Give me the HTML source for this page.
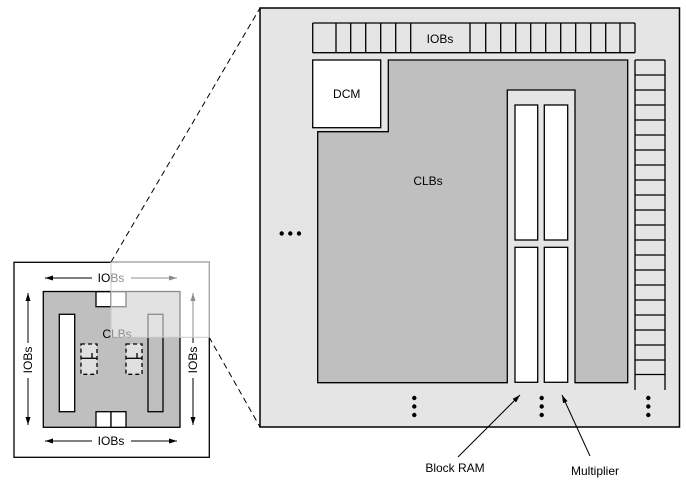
<!DOCTYPE html>
<html><head><style>html,body{margin:0;padding:0;background:#fff}svg{display:block}</style></head>
<body>
<svg width="686" height="481" viewBox="0 0 686 481" xmlns="http://www.w3.org/2000/svg" font-family="Liberation Sans, Arial, sans-serif">
<defs>
<marker id="ah" markerWidth="8" markerHeight="5" refX="8" refY="2.5" orient="auto" markerUnits="userSpaceOnUse"><path d="M0,0 L8,2.5 L0,5 z" fill="#000"/></marker>
</defs>
<line x1="111" y1="262" x2="260" y2="8" stroke="#000" stroke-width="1" stroke-dasharray="6,4"/>
<line x1="209" y1="337" x2="260" y2="427" stroke="#000" stroke-width="1" stroke-dasharray="6,4"/>
<rect x="260" y="8" width="419.5" height="419" fill="#e5e5e5" stroke="#000" stroke-width="1.5"/>
<g stroke="#000" stroke-width="1.3" fill="none">
<line x1="312.7" y1="23" x2="635" y2="23"/>
<line x1="312.7" y1="52.7" x2="635" y2="52.7"/>
<path d="M312.7 23V52.7M336 23V52.7M350.7 23V52.7M365.7 23V52.7M380.7 23V52.7M395.7 23V52.7M410.7 23V52.7M470 23V52.7M485.7 23V52.7M500.7 23V52.7M515.7 23V52.7M530.7 23V52.7M545.7 23V52.7M560.7 23V52.7M575.7 23V52.7M590.7 23V52.7M605.7 23V52.7M620 23V52.7M635 23V52.7"/>
</g>
<text x="440" y="43" font-size="12" text-anchor="middle">IOBs</text>
<rect x="312.7" y="60" width="68" height="67.7" fill="#fff" stroke="#000" stroke-width="1.3"/>
<text x="346.7" y="98" font-size="12" text-anchor="middle">DCM</text>
<path d="M388.3 60 H627.7 V382.7 H575 V90 H507.3 V382.7 H317.7 V131.7 H388.3 Z" fill="#bfbfbf" stroke="#000" stroke-width="1.3"/>
<text x="428" y="185" font-size="12" text-anchor="middle">CLBs</text>
<g fill="#fff" stroke="#000" stroke-width="1.3">
<rect x="515" y="105" width="22.7" height="135"/>
<rect x="544.3" y="105" width="23.4" height="135"/>
<rect x="515" y="247.3" width="22.7" height="135"/>
<rect x="544.3" y="247.3" width="23.4" height="135"/>
</g>
<g stroke="#000" stroke-width="1.3">
<line x1="635" y1="60" x2="635" y2="390"/>
<line x1="665" y1="60" x2="665" y2="390"/>
<path d="M635 60H665M635 75H665M635 90H665M635 105H665M635 120H665M635 135H665M635 150H665M635 165H665M635 180H665M635 195H665M635 210H665M635 225H665M635 240H665M635 255H665M635 270H665M635 285H665M635 300H665M635 315H665M635 330H665M635 345H665M635 360H665M635 374.5H665"/>
</g>
<g fill="#000">
<circle cx="281.7" cy="233.5" r="2.2"/><circle cx="290.3" cy="233.5" r="2.2"/><circle cx="299" cy="233.5" r="2.2"/>
<circle cx="414.3" cy="398" r="2.2"/><circle cx="414.3" cy="406.5" r="2.2"/><circle cx="414.3" cy="415" r="2.2"/>
<circle cx="541.7" cy="398" r="2.2"/><circle cx="541.7" cy="406.5" r="2.2"/><circle cx="541.7" cy="415" r="2.2"/>
<circle cx="648.3" cy="398" r="2.2"/><circle cx="648.3" cy="406.5" r="2.2"/><circle cx="648.3" cy="415" r="2.2"/>
</g>
<line x1="458" y1="457" x2="520" y2="395" stroke="#000" stroke-width="1" marker-end="url(#ah)"/>
<line x1="590" y1="456" x2="562" y2="395" stroke="#000" stroke-width="1" marker-end="url(#ah)"/>
<text x="455" y="472" font-size="12" text-anchor="middle">Block RAM</text>
<text x="595" y="475" font-size="12" text-anchor="middle">Multiplier</text>
<rect x="14" y="262.3" width="195.3" height="195" fill="#fff" stroke="#000" stroke-width="1.3"/>
<rect x="43.3" y="291.5" width="136.7" height="135.8" fill="#bfbfbf" stroke="#000" stroke-width="1.3"/>
<g fill="#fff" stroke="#000" stroke-width="1.3">
<rect x="96" y="291.7" width="15" height="15"/><rect x="111" y="291.7" width="15" height="15"/>
<rect x="96" y="411.7" width="15" height="15.6"/><rect x="111" y="411.7" width="15" height="15.6"/>
<rect x="59.3" y="314.3" width="15.4" height="97.4"/>
</g>
<rect x="148" y="314.3" width="15" height="97.4" fill="#bfbfbf" stroke="#000" stroke-width="1.3"/>
<g fill="#e0e0e0" stroke="#000" stroke-width="1.3" stroke-dasharray="4,3">
<rect x="81" y="344" width="16" height="30.3"/>
<rect x="126" y="344" width="16" height="30.3"/>
</g>
<g stroke="#000" stroke-width="1.3">
<line x1="81" y1="358.3" x2="97" y2="358.3"/><line x1="92" y1="353" x2="92" y2="358.3"/>
<line x1="126" y1="358.3" x2="142" y2="358.3"/><line x1="137" y1="353" x2="137" y2="358.3"/>
</g>
<text x="117" y="338" font-size="12" text-anchor="middle">CLBs</text>
<g stroke="#000" stroke-width="1">
<line x1="92" y1="278" x2="45" y2="278" marker-end="url(#ah)"/>
<line x1="131" y1="278" x2="177" y2="278" marker-end="url(#ah)"/>
<line x1="92" y1="441" x2="45" y2="441" marker-end="url(#ah)"/>
<line x1="131" y1="441" x2="177" y2="441" marker-end="url(#ah)"/>
<line x1="28" y1="343" x2="28" y2="293" marker-end="url(#ah)"/>
<line x1="28" y1="378" x2="28" y2="425" marker-end="url(#ah)"/>
<line x1="193" y1="343" x2="193" y2="293" marker-end="url(#ah)"/>
<line x1="193" y1="378" x2="193" y2="425" marker-end="url(#ah)"/>
</g>
<text x="111" y="282" font-size="12" text-anchor="middle">IOBs</text>
<text x="111" y="445" font-size="12" text-anchor="middle">IOBs</text>
<text transform="translate(32,360) rotate(-90)" font-size="12" text-anchor="middle">IOBs</text>
<text transform="translate(197,360) rotate(-90)" font-size="12" text-anchor="middle">IOBs</text>
<rect x="111" y="262.3" width="98.3" height="75" fill="#fff" fill-opacity="0.55" stroke="#c8c8c8" stroke-width="1"/>
</svg>
</body></html>
